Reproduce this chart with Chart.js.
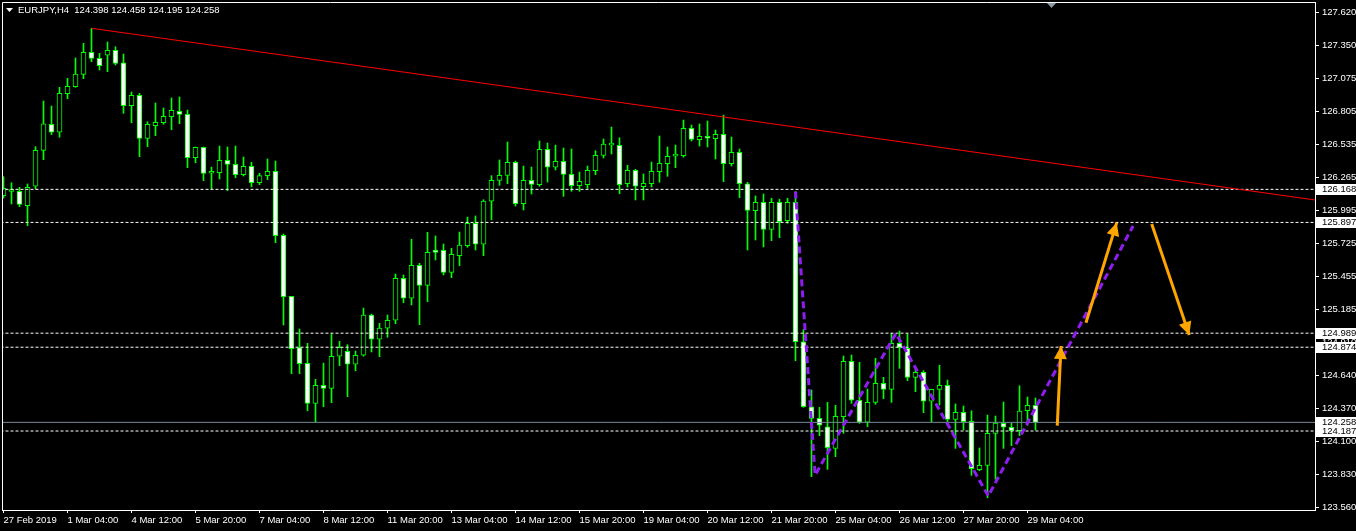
<!DOCTYPE html>
<html>
<head>
<meta charset="utf-8">
<script src="https://cdn.jsdelivr.net/npm/chart.js@4.4.1/dist/chart.umd.min.js"></script>
<style>
  html, body { margin: 0; padding: 0; background: #000; }
  #wrap { width: 1356px; height: 531px; }
</style>
</head>
<body>
<div id="wrap"><canvas id="chart" width="1356" height="531"></canvas></div>
<script>
// EURJPY H4, one entry per bar (bar 0 = 27 Feb 20:00)
const symbolName = "EURJPY,H4";
const opens = [
  126.116, 126.150, 126.152, 126.034, 126.193, 126.488, 126.701, 126.636, 126.952, 127.009,
  127.111, 127.291, 127.242, 127.267, 127.308, 127.204, 126.854, 126.939, 126.586, 126.690,
  126.714, 126.763, 126.808, 126.783, 126.427, 126.513, 126.300, 126.304, 126.406, 126.373,
  126.288, 126.357, 126.222, 126.280, 126.316, 125.791, 125.291, 124.870, 124.742, 124.414,
  124.562, 124.537, 124.800, 124.841, 124.734, 124.808, 125.138, 124.939, 125.031, 125.095,
  125.439, 125.275, 125.545, 125.381, 125.671, 125.668, 125.488, 125.624, 125.706, 125.890,
  125.718, 126.072, 126.242, 126.283, 126.390, 126.050, 126.242, 126.206, 126.496, 126.349,
  126.398, 126.291, 126.198, 126.206, 126.321, 126.447, 126.530, 126.529, 126.214, 126.324,
  126.190, 126.214, 126.313, 126.378, 126.440, 126.444, 126.668, 126.575, 126.603, 126.583,
  126.619, 126.378, 126.472, 126.214, 125.993, 126.062, 125.840, 126.062, 125.911, 126.062,
  124.919, 124.386, 124.291, 124.222, 124.045, 124.304, 124.759, 124.439, 124.259, 124.422,
  124.578, 124.529, 124.906, 124.865, 124.627, 124.668, 124.431, 124.529, 124.562, 124.283,
  124.341, 124.267, 123.870, 123.906, 124.168, 124.250, 124.218, 124.190, 124.353, 124.398
];
const highs = [
  126.272, 126.222, 126.185, 126.212, 126.518, 126.892, 126.851, 127.004, 127.078, 127.245,
  127.365, 127.488, 127.283, 127.376, 127.337, 127.277, 126.966, 126.955, 126.722, 126.876,
  126.835, 126.917, 126.925, 126.818, 126.515, 126.515, 126.351, 126.523, 126.515, 126.523,
  126.433, 126.390, 126.300, 126.417, 126.400, 125.802, 125.291, 125.023, 124.906, 124.611,
  124.744, 124.982, 124.922, 124.895, 124.843, 125.195, 125.146, 125.070, 125.138, 125.474,
  125.466, 125.759, 125.562, 125.816, 125.786, 125.720, 125.685, 125.818, 125.941, 125.950,
  126.083, 126.280, 126.409, 126.556, 126.400, 126.359, 126.351, 126.564, 126.548, 126.531,
  126.507, 126.499, 126.310, 126.359, 126.485, 126.581, 126.679, 126.591, 126.365, 126.332,
  126.294, 126.392, 126.605, 126.515, 126.531, 126.736, 126.695, 126.704, 126.728, 126.654,
  126.777, 126.597, 126.499, 126.226, 126.114, 126.130, 126.095, 126.087, 126.095, 126.149,
  125.021, 124.523, 124.381, 124.422, 124.398, 124.802, 124.810, 124.750, 124.531, 124.783,
  124.627, 124.988, 125.007, 124.982, 124.701, 124.682, 124.530, 124.726, 124.605, 124.409,
  124.392, 124.353, 124.048, 124.318, 124.310, 124.425, 124.250, 124.558, 124.466, 124.458
];
const lows = [
  126.097, 126.048, 126.026, 125.870, 126.171, 126.411, 126.616, 126.595, 126.911, 127.004,
  127.075, 127.214, 127.146, 127.132, 127.187, 126.791, 126.714, 126.436, 126.518, 126.608,
  126.701, 126.657, 126.706, 126.345, 126.386, 126.239, 126.171, 126.253, 126.157, 126.263,
  126.277, 126.190, 126.206, 126.247, 125.731, 125.056, 124.657, 124.657, 124.353, 124.261,
  124.386, 124.419, 124.722, 124.468, 124.681, 124.800, 124.835, 124.796, 124.955, 125.067,
  125.239, 125.220, 125.059, 125.247, 125.589, 125.466, 125.444, 125.542, 125.693, 125.671,
  125.624, 125.919, 126.201, 126.214, 126.031, 125.999, 126.130, 126.193, 126.228, 126.327,
  126.111, 126.152, 126.152, 126.176, 126.288, 126.425, 126.458, 126.132, 126.187, 126.081,
  126.081, 126.187, 126.226, 126.275, 126.345, 126.431, 126.564, 126.523, 126.515, 126.417,
  126.231, 126.359, 126.099, 125.671, 125.753, 125.696, 125.747, 125.772, 125.890, 124.763,
  124.381, 123.813, 124.149, 123.873, 123.977, 124.168, 124.414, 124.250, 124.223, 124.406,
  124.452, 124.422, 124.701, 124.600, 124.509, 124.337, 124.261, 124.400, 124.245, 124.045,
  124.195, 123.824, 123.862, 123.640, 123.791, 124.045, 124.067, 124.149, 124.234, 124.195
];
const closes = [
  126.177, 126.156, 126.045, 126.185, 126.488, 126.704, 126.636, 126.955, 127.013, 127.113,
  127.291, 127.242, 127.181, 127.308, 127.201, 126.854, 126.939, 126.586, 126.701, 126.718,
  126.767, 126.816, 126.783, 126.427, 126.513, 126.299, 126.306, 126.406, 126.373, 126.288,
  126.357, 126.222, 126.280, 126.316, 125.788, 125.288, 124.862, 124.739, 124.414, 124.562,
  124.537, 124.800, 124.873, 124.734, 124.808, 125.138, 124.939, 125.031, 125.095, 125.439,
  125.275, 125.545, 125.381, 125.652, 125.652, 125.488, 125.636, 125.712, 125.890, 125.718,
  126.072, 126.242, 126.283, 126.390, 126.050, 126.242, 126.209, 126.496, 126.349, 126.398,
  126.291, 126.198, 126.234, 126.324, 126.447, 126.540, 126.540, 126.206, 126.324, 126.193,
  126.218, 126.316, 126.381, 126.439, 126.444, 126.668, 126.578, 126.603, 126.587, 126.619,
  126.378, 126.472, 126.214, 125.996, 126.062, 125.840, 126.062, 125.903, 126.062, 124.919,
  124.386, 124.291, 124.236, 124.050, 124.308, 124.759, 124.439, 124.259, 124.422, 124.578,
  124.529, 124.906, 124.873, 124.627, 124.668, 124.431, 124.529, 124.562, 124.283, 124.341,
  124.263, 123.878, 123.906, 124.168, 124.253, 124.218, 124.190, 124.351, 124.398, 124.258
];

// axis labels
const timeTickIdx = [0, 8, 16, 24, 32, 40, 48, 56, 64, 72, 80, 88, 96, 104, 112, 120, 128];
const timeLabels = ["27 Feb 2019", "1 Mar 04:00", "4 Mar 12:00", "5 Mar 20:00", "7 Mar 04:00",
  "8 Mar 12:00", "11 Mar 20:00", "13 Mar 04:00", "14 Mar 12:00", "15 Mar 20:00", "19 Mar 04:00",
  "20 Mar 12:00", "21 Mar 20:00", "25 Mar 04:00", "26 Mar 12:00", "27 Mar 20:00", "29 Mar 04:00"];
const priceTicks = [127.620, 127.350, 127.075, 126.805, 126.535, 126.265, 125.995, 125.725,
  125.455, 125.185, 124.910, 124.640, 124.370, 124.100, 123.830, 123.560];

// drawn objects
const levelPrices = [126.168, 125.897, 124.989, 124.874, 124.187];
const bidPrice = closes[closes.length - 1];
const trendX = [11, 163.94];
const trendY = [127.488, 126.081];
const zigzagX = [99, 101.45, 111.55, 123.1, 141.2];
const zigzagY = [126.150, 123.826, 124.988, 123.655, 125.868];
const arrowFromX = [131.72, 135.31, 143.53];
const arrowFromY = [124.231, 125.075, 125.884];
const arrowToX = [132.19, 139.15, 148.22];
const arrowToY = [124.884, 125.895, 124.974];

const FONT = "'Liberation Sans', Arial, sans-serif";
const GREEN = "#00ff00";
Chart.defaults.font.family = FONT;
Chart.defaults.font.size = 9.5;
Chart.defaults.color = "#ffffff";

const lastI = opens.length - 1;
const bodyColors = opens.map((o, i) => (closes[i] < o ? "#ffffff" : "#000000"));

function lineSet(xs, ys, color, width, dash, order) {
  return {
    type: "line",
    data: xs.map((x, i) => ({ x: x, y: ys[i] })),
    borderColor: color,
    borderWidth: width,
    borderDash: dash,
    pointRadius: 0,
    fill: false,
    tension: 0,
    order: order
  };
}

const datasets = [
  {
    label: "wicks",
    data: lows.map((l, i) => ({ x: i, y: [l, highs[i]] })),
    backgroundColor: GREEN,
    barThickness: 1,
    grouped: false,
    order: 5
  },
  {
    label: "bodies",
    data: opens.map((o, i) => ({ x: i, y: [o, closes[i]] })),
    backgroundColor: bodyColors,
    borderColor: GREEN,
    borderWidth: 1,
    borderSkipped: false,
    barThickness: 5,
    minBarLength: 2,
    grouped: false,
    order: 4
  }
];
levelPrices.forEach((p) => {
  datasets.push(lineSet([-1, 165], [p, p], "#ffffff", 1, [3, 2], 3));
});
datasets.push(lineSet([-1, 165], [bidPrice, bidPrice], "#778899", 1, [], 3));
datasets.push(lineSet(trendX, trendY, "#ff0000", 1, [], 2));
datasets.push(lineSet(zigzagX, zigzagY, "#8f1df2", 3, [7, 4], 1));
arrowFromX.forEach((x, k) => {
  datasets.push(lineSet([x, arrowToX[k]], [arrowFromY[k], arrowToY[k]], "#ffa500", 3, [], 0));
});

const mtDecor = {
  id: "mtDecor",
  beforeDraw(chart) {
    const ctx = chart.ctx;
    ctx.save();
    ctx.fillStyle = "#000000";
    ctx.fillRect(0, 0, chart.width, chart.height);
    ctx.restore();
  },
  afterDatasetsDraw(chart) {
    const ctx = chart.ctx, xs = chart.scales.x, ys = chart.scales.y;
    ctx.save();
    ctx.fillStyle = "#ffa500";
    arrowFromX.forEach((x, k) => {
      const x0 = xs.getPixelForValue(x), y0 = ys.getPixelForValue(arrowFromY[k]);
      const x1 = xs.getPixelForValue(arrowToX[k]), y1 = ys.getPixelForValue(arrowToY[k]);
      const a = Math.atan2(y1 - y0, x1 - x0);
      const L = 13, W = 6.5;
      const bx = x1 - L * Math.cos(a), by = y1 - L * Math.sin(a);
      ctx.beginPath();
      ctx.moveTo(x1, y1);
      ctx.lineTo(bx + W * Math.sin(a), by - W * Math.cos(a));
      ctx.lineTo(bx - W * Math.sin(a), by + W * Math.cos(a));
      ctx.closePath();
      ctx.fill();
    });
    ctx.restore();
  },
  afterDraw(chart) {
    const ctx = chart.ctx, area = chart.chartArea, xs = chart.scales.x, ys = chart.scales.y;
    ctx.save();
    // left and top edges of the frame
    ctx.strokeStyle = "#ffffff";
    ctx.lineWidth = 1;
    ctx.beginPath();
    ctx.moveTo(area.left + 0.5, area.bottom);
    ctx.lineTo(area.left + 0.5, area.top + 0.5);
    ctx.lineTo(area.right, area.top + 0.5);
    ctx.stroke();

    // price boxes on the right axis
    ctx.font = "9.5px " + FONT;
    ctx.textBaseline = "middle";
    ctx.textAlign = "left";
    [bidPrice].concat(levelPrices).forEach((p) => {
      const y = Math.round(ys.getPixelForValue(p));
      ctx.fillStyle = "#ffffff";
      ctx.fillRect(area.right + 1, y - 5, chart.width - area.right - 1, 11);
      ctx.fillStyle = "#000000";
      ctx.fillText(p.toFixed(3), area.right + 7, y + 0.5);
    });

    // symbol header
    ctx.fillStyle = "#ffffff";
    ctx.beginPath();
    ctx.moveTo(6, 8); ctx.lineTo(13, 8); ctx.lineTo(9.5, 12); ctx.closePath();
    ctx.fill();
    ctx.fillText(symbolName + "  " + [opens[lastI], highs[lastI], lows[lastI], closes[lastI]]
      .map((v) => v.toFixed(3)).join(" "), 18, 10.5);

    // chart shift marker
    const sx = xs.getPixelForValue(131);
    ctx.fillStyle = "#8c9aa6";
    ctx.beginPath();
    ctx.moveTo(sx - 4.5, area.top + 1); ctx.lineTo(sx + 4.5, area.top + 1); ctx.lineTo(sx, area.top + 6);
    ctx.closePath();
    ctx.fill();
    ctx.restore();
  }
};

new Chart(document.getElementById("chart"), {
  type: "bar",
  data: { datasets: datasets },
  plugins: [mtDecor],
  options: {
    responsive: false,
    devicePixelRatio: 1,
    animation: false,
    layout: { padding: { left: 2, top: 2, right: 0, bottom: 0 } },
    plugins: { legend: { display: false }, tooltip: { enabled: false } },
    scales: {
      x: {
        type: "linear",
        offset: false,
        min: -0.1875,
        max: 163.9375,
        grid: { display: true, drawOnChartArea: false, drawTicks: true, tickLength: 3, color: "#ffffff", offset: false },
        border: { display: true, color: "#ffffff" },
        ticks: {
          autoSkip: false,
          maxRotation: 0,
          minRotation: 0,
          align: "start",
          padding: 2,
          color: "#ffffff",
          callback: (v, i) => timeLabels[i]
        },
        afterBuildTicks: (s) => { s.ticks = timeTickIdx.map((v) => ({ value: v })); },
        afterFit: (s) => { s.height = 21; s.paddingLeft = 0; s.paddingRight = 0; }
      },
      y: {
        position: "right",
        min: 123.5397,
        max: 127.7036,
        grid: { display: true, drawOnChartArea: false, drawTicks: true, tickLength: 4, color: "#ffffff" },
        border: { display: true, color: "#ffffff" },
        ticks: {
          autoSkip: false,
          padding: 3,
          color: "#ffffff",
          callback: (v) => Number(v).toFixed(3)
        },
        afterBuildTicks: (s) => { s.ticks = priceTicks.map((v) => ({ value: v })); },
        afterFit: (s) => { s.width = 41; s.paddingTop = 0; s.paddingBottom = 0; }
      }
    }
  }
});
</script>
</body>
</html>
